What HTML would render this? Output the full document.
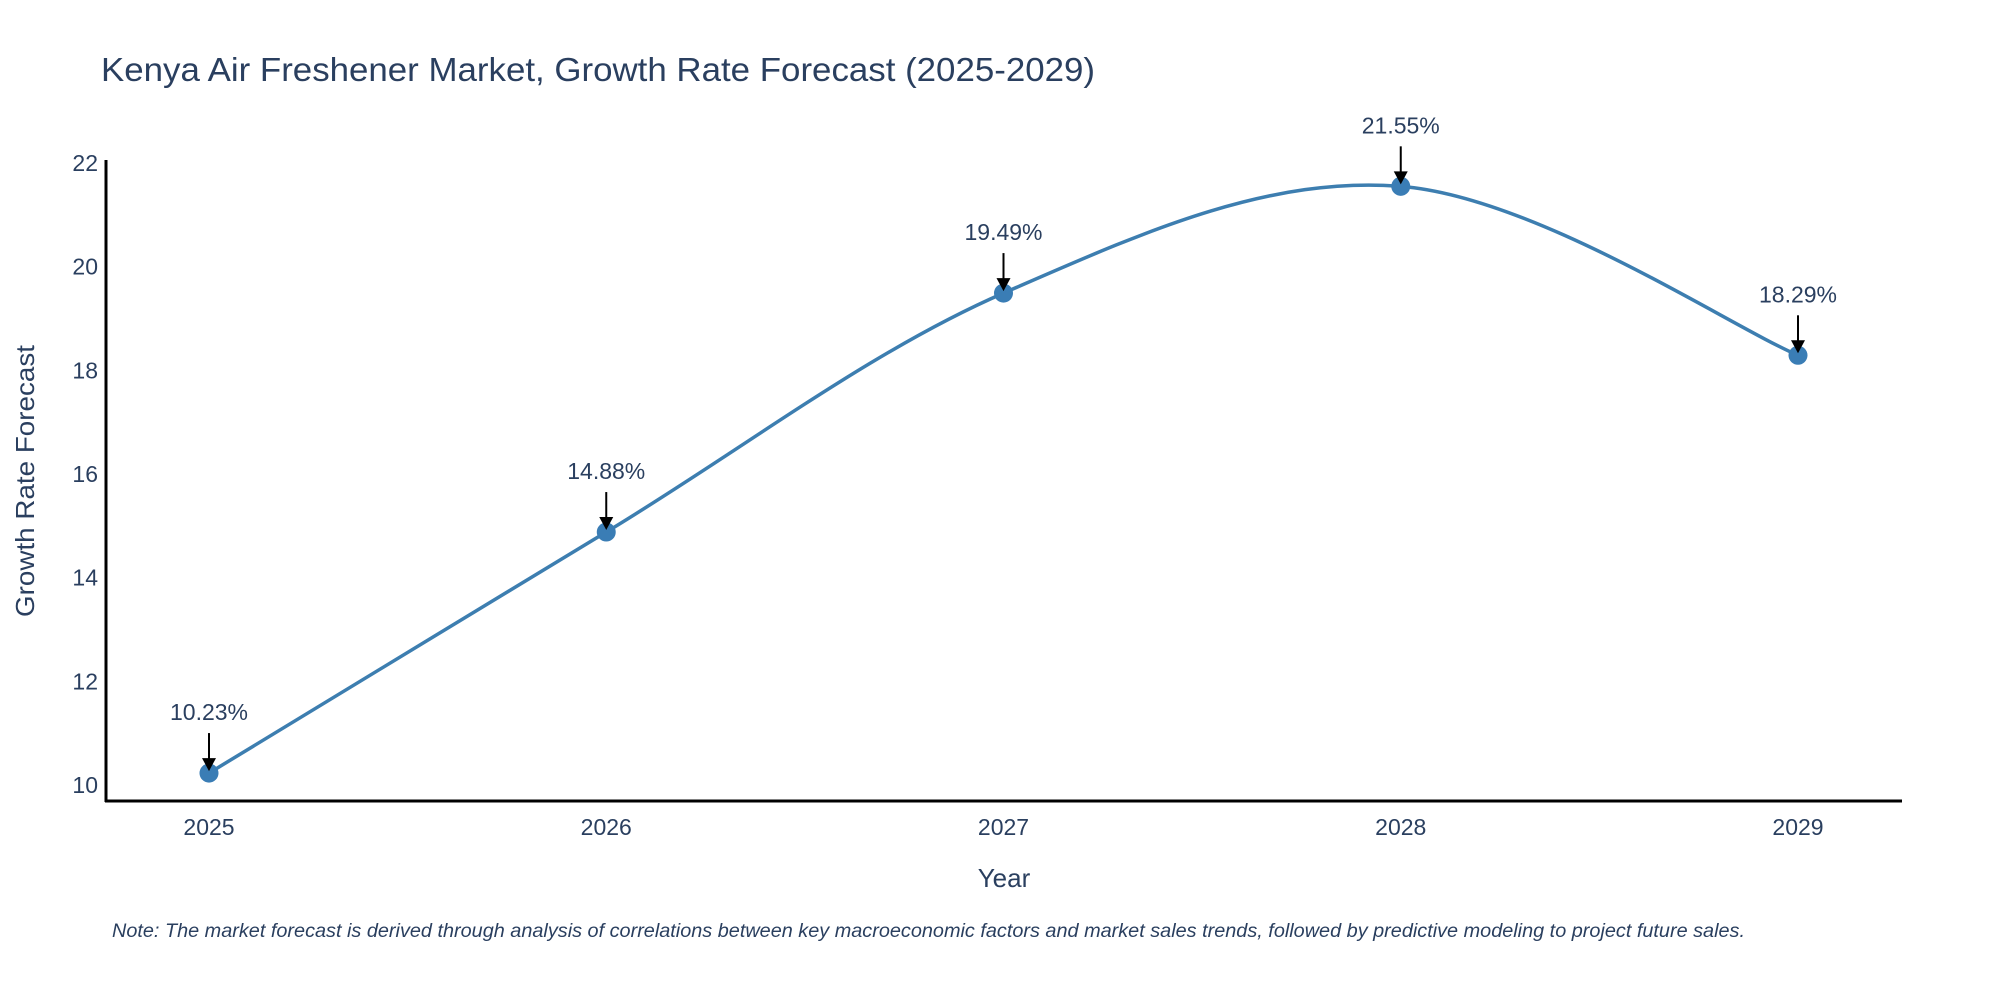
<!DOCTYPE html>
<html><head><meta charset="utf-8">
<style>
html,body{margin:0;padding:0;background:#fff;}
svg text{font-family:"Liberation Sans","DejaVu Sans",sans-serif;fill:#2a3f5f;}
</style></head>
<body>
<svg id="chart" width="2000" height="1000" xmlns="http://www.w3.org/2000/svg">
<text x="101" y="81" font-size="33" textLength="994" lengthAdjust="spacingAndGlyphs">Kenya Air Freshener Market, Growth Rate Forecast (2025-2029)</text>
<g id="yticks"></g>
<g id="xticks"></g>
<line x1="106" y1="160" x2="106" y2="802" stroke="#000" stroke-width="3"/>
<line x1="105" y1="801" x2="1902" y2="801" stroke="#000" stroke-width="3"/>
<text transform="translate(34,481) rotate(-90)" text-anchor="middle" font-size="26" textLength="272" lengthAdjust="spacingAndGlyphs">Growth Rate Forecast</text>
<text x="1004" y="887" text-anchor="middle" font-size="26">Year</text>
<g id="series"></g>
<g id="annots"></g>
<text x="112" y="937" font-size="19" font-style="italic" textLength="1633" lengthAdjust="spacingAndGlyphs">Note: The market forecast is derived through analysis of correlations between key macroeconomic factors and market sales trends, followed by predictive modeling to project future sales.</text>
</svg>
<script>
const years = [2025, 2026, 2027, 2028, 2029];
const values = [10.23, 14.88, 19.49, 21.55, 18.29];
const valueLabels = ["10.23%", "14.88%", "19.49%", "21.55%", "18.29%"];
const yTicks = [10, 12, 14, 16, 18, 20, 22];

const NS = "http://www.w3.org/2000/svg";
const xScale = y => 209 + (y - 2025) * (1798 - 209) / 4;
const yScale = v => 785 - (v - 10) * (785 - 163) / 12;
function mk(tag, attrs, parent){const e=document.createElementNS(NS,tag);for(const k in attrs)e.setAttribute(k,attrs[k]);parent.appendChild(e);return e;}

const yt=document.getElementById('yticks');
yTicks.forEach(t=>{
  const e=mk('text',{x:98,y:yScale(t)+8,'text-anchor':'end','font-size':23},yt);
  
  
  e.textContent=t;
});
const xt=document.getElementById('xticks');
years.forEach(y=>{
  const e=mk('text',{x:xScale(y),y:835,'text-anchor':'middle','font-size':23},xt);
  
  
  e.textContent=y;
});

const pts=years.map((y,i)=>[xScale(y),yScale(values[i])]);
let d=`M${pts[0][0]},${pts[0][1]}`;
const s=0.17;
for(let i=0;i<pts.length-1;i++){
  const p0=pts[Math.max(0,i-1)],p1=pts[i],p2=pts[i+1],p3=pts[Math.min(pts.length-1,i+2)];
  const c1=[p1[0]+(p2[0]-p0[0])*s,p1[1]+(p2[1]-p0[1])*s];
  const c2=[p2[0]-(p3[0]-p1[0])*s,p2[1]-(p3[1]-p1[1])*s];
  d+=` C${c1[0]},${c1[1]} ${c2[0]},${c2[1]} ${p2[0]},${p2[1]}`;
}
const sg=document.getElementById('series');
const line=mk('path',{d:d,fill:'none',stroke:'#3d7eb0','stroke-width':3.5},sg);


pts.forEach(p=>{
  const c=mk('circle',{cx:p[0],cy:p[1],r:9.5,fill:'#3a7db5'},sg);
  
  
});
const ag=document.getElementById('annots');
pts.forEach((p,i)=>{
  const t=mk('text',{x:p[0],y:p[1]-53,'text-anchor':'middle','font-size':23},ag);
  
  
  t.textContent=valueLabels[i];
  const l=mk('line',{x1:p[0],y1:p[1]-40,x2:p[0],y2:p[1]-12,stroke:'#000','stroke-width':2},ag);
  
  
  const h=mk('path',{d:`M${p[0]-7},${p[1]-15} L${p[0]+7},${p[1]-15} L${p[0]},${p[1]-2} Z`,fill:'#000'},ag);
  
  
});
</script>
</body></html>
